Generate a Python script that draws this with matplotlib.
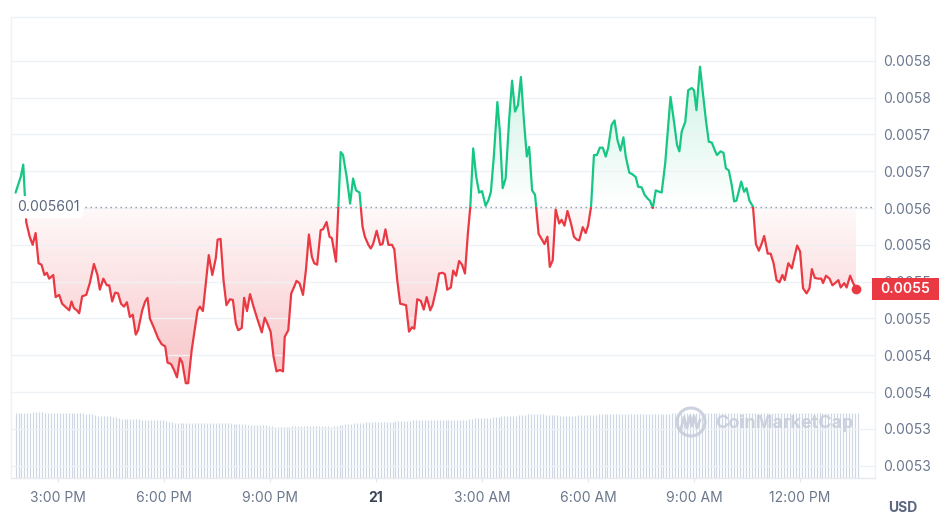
import numpy as np
import matplotlib
matplotlib.use("Agg")
import matplotlib.pyplot as plt
from matplotlib.patches import Rectangle, PathPatch, Ellipse
from matplotlib.path import Path
from matplotlib.lines import Line2D
from matplotlib.colors import to_rgb
import matplotlib.transforms as mtransforms

plt.rcParams['font.family'] = ['Inter', 'DejaVu Sans']

# ---------------- data ----------------
start_hour = 13.8          # first sample: 13:48 on the 20th (hours since midnight of the 20th)
minutes = [0, 9, 13, 18, 24, 29, 34, 39, 44, 49, 53, 57, 64, 68, 74, 79, 87, 91, 95, 99,
           104, 108, 113, 120, 126, 133, 139, 143, 149, 155, 159, 164, 169, 174, 179, 184, 189, 194, 199, 204,
           208, 215, 220, 224, 228, 235, 242, 248, 254, 258, 264, 269, 274, 279, 283, 289, 293, 299, 309, 313,
           318, 328, 334, 340, 343, 348, 353, 358, 364, 369, 374, 378, 384, 388, 393, 398, 404, 409, 418, 423,
           427, 433, 438, 443, 449, 454, 457, 463, 468, 473, 477, 482, 488, 493, 498, 503, 507, 512, 518, 522,
           528, 533, 537, 544, 552, 556, 562, 568, 573, 578, 584, 589, 593, 599, 603, 607, 613, 619, 623, 628,
           633, 639, 643, 648, 653, 658, 663, 668, 673, 677, 682, 688, 693, 698, 704, 708, 714, 719, 725, 729,
           733, 739, 743, 748, 753, 758, 763, 768, 772, 777, 782, 787, 792, 798, 803, 807, 812, 818, 822, 827,
           832, 838, 843, 848, 853, 858, 863, 868, 872, 877, 882, 888, 893, 898, 903, 907, 912, 917, 923, 927,
           932, 937, 943, 948, 953, 957, 963, 968, 972, 977, 982, 987, 992, 997, 1002, 1006, 1012, 1017, 1022, 1027,
           1032, 1036, 1042, 1047, 1053, 1057, 1063, 1068, 1073, 1077, 1082, 1087, 1093, 1097, 1103, 1112, 1118, 1123, 1127, 1131,
           1137, 1142, 1148, 1152, 1156, 1162, 1168, 1172, 1177, 1182, 1188, 1191, 1197, 1202, 1206, 1211, 1216, 1220, 1224, 1232,
           1237, 1241, 1246, 1252, 1257, 1262, 1267, 1271, 1277, 1282, 1287, 1292, 1297, 1302, 1306, 1312, 1318, 1322, 1327, 1332,
           1337, 1343, 1348, 1352, 1357, 1363, 1368, 1371, 1376, 1382, 1387, 1393, 1397, 1401, 1407, 1411, 1417, 1421, 1427]
price = [0.005621, 0.005643, 0.005659, 0.005581, 0.005561, 0.005550, 0.005566, 0.005525, 0.005523, 0.005509,
         0.005512, 0.005504, 0.005509, 0.005479, 0.005482, 0.005470, 0.005464, 0.005461, 0.005473, 0.005464,
         0.005461, 0.005457, 0.005480, 0.005482, 0.005498, 0.005524, 0.005509, 0.005489, 0.005504, 0.005495,
         0.005495, 0.005473, 0.005485, 0.005484, 0.005470, 0.005466, 0.005472, 0.005452, 0.005455, 0.005428,
         0.005434, 0.005461, 0.005473, 0.005478, 0.005450, 0.005437, 0.005423, 0.005415, 0.005412, 0.005390,
         0.005388, 0.005380, 0.005370, 0.005396, 0.005390, 0.005362, 0.005362, 0.005407, 0.005461, 0.005466,
         0.005460, 0.005536, 0.005509, 0.005532, 0.005557, 0.005558, 0.005502, 0.005468, 0.005476, 0.005475,
         0.005443, 0.005434, 0.005437, 0.005478, 0.005460, 0.005483, 0.005466, 0.005453, 0.005431, 0.005451,
         0.005444, 0.005432, 0.005398, 0.005378, 0.005380, 0.005378, 0.005425, 0.005434, 0.005484, 0.005493,
         0.005501, 0.005498, 0.005482, 0.005516, 0.005564, 0.005534, 0.005525, 0.005523, 0.005570, 0.005571,
         0.005581, 0.005561, 0.005559, 0.005527, 0.005676, 0.005672, 0.005643, 0.005606, 0.005640, 0.005624,
         0.005621, 0.005575, 0.005561, 0.005550, 0.005545, 0.005551, 0.005569, 0.005550, 0.005551, 0.005571,
         0.005550, 0.005550, 0.005544, 0.005502, 0.005470, 0.005469, 0.005468, 0.005432, 0.005438, 0.005436,
         0.005476, 0.005474, 0.005462, 0.005479, 0.005461, 0.005468, 0.005489, 0.005511, 0.005512, 0.005510,
         0.005489, 0.005492, 0.005515, 0.005508, 0.005528, 0.005523, 0.005511, 0.005566, 0.005601, 0.005681,
         0.005643, 0.005621, 0.005623, 0.005603, 0.005611, 0.005622, 0.005670, 0.005744, 0.005706, 0.005627,
         0.005640, 0.005720, 0.005773, 0.005731, 0.005740, 0.005778, 0.005720, 0.005670, 0.005683, 0.005624,
         0.005618, 0.005565, 0.005558, 0.005551, 0.005561, 0.005520, 0.005529, 0.005598, 0.005579, 0.005584,
         0.005576, 0.005596, 0.005579, 0.005561, 0.005557, 0.005556, 0.005574, 0.005566, 0.005576, 0.005601,
         0.005672, 0.005672, 0.005682, 0.005682, 0.005670, 0.005681, 0.005713, 0.005719, 0.005692, 0.005678,
         0.005696, 0.005670, 0.005648, 0.005646, 0.005642, 0.005629, 0.005628, 0.005618, 0.005613, 0.005610,
         0.005600, 0.005624, 0.005622, 0.005621, 0.005661, 0.005751, 0.005717, 0.005686, 0.005677, 0.005704,
         0.005717, 0.005760, 0.005763, 0.005760, 0.005733, 0.005792, 0.005749, 0.005720, 0.005690, 0.005689,
         0.005677, 0.005672, 0.005677, 0.005675, 0.005654, 0.005651, 0.005631, 0.005609, 0.005610, 0.005636,
         0.005622, 0.005627, 0.005610, 0.005602, 0.005551, 0.005542, 0.005552, 0.005562, 0.005538, 0.005538,
         0.005525, 0.005502, 0.005499, 0.005509, 0.005502, 0.005525, 0.005518, 0.005532, 0.005549, 0.005541,
         0.005491, 0.005484, 0.005491, 0.005517, 0.005505, 0.005504, 0.005504, 0.005498, 0.005508, 0.005504,
         0.005495, 0.005499, 0.005502, 0.005492, 0.005498, 0.005492, 0.005508, 0.005500, 0.005490]
baseline = 0.005601
baseline_label = '0.005601'
current_label = '0.0055'

# volume bars, one every 5 minutes from 13:48 (relative units)
volume_step_min = 5
volume = [66, 66, 66, 66, 66, 66, 67, 67, 67, 67, 66, 66, 66, 66, 66, 66, 66, 66, 66, 66, 66, 66, 66, 66,
          65, 65, 65, 64, 63, 63, 63, 63, 63, 62, 62, 61, 60, 60, 60, 60, 60, 60, 60, 59, 59, 59, 59, 59,
          59, 59, 59, 58, 57, 57, 56, 56, 56, 56, 56, 56, 56, 56, 56, 56, 56, 56, 56, 56, 56, 56, 56, 56,
          56, 56, 55, 55, 55, 55, 55, 54, 54, 54, 54, 54, 54, 54, 53, 53, 52, 52, 52, 52, 52, 52, 53, 53,
          53, 53, 53, 53, 53, 53, 53, 53, 53, 53, 53, 52, 53, 53, 54, 54, 55, 55, 55, 56, 56, 56, 56, 57,
          57, 57, 57, 57, 57, 57, 57, 57, 57, 58, 58, 58, 58, 58, 58, 59, 59, 59, 59, 59, 59, 59, 59, 59,
          59, 59, 59, 59, 59, 59, 59, 59, 59, 59, 60, 60, 61, 61, 61, 61, 61, 61, 62, 62, 62, 63, 63, 63,
          63, 63, 63, 64, 64, 64, 65, 65, 65, 65, 65, 65, 64, 64, 64, 64, 64, 63, 63, 63, 63, 63, 63, 64,
          64, 64, 64, 64, 64, 64, 65, 65, 65, 65, 65, 65, 65, 65, 65, 65, 65, 65, 65, 65, 65, 65, 65, 65,
          65, 65, 65, 65, 65, 65, 65, 66, 66, 66, 66, 66, 66, 66, 66, 66, 66, 66, 66, 66, 66, 66, 66, 66,
          66, 66, 66, 66, 66, 66, 66, 66, 66, 66, 66, 66, 66, 66, 66, 66, 66, 66, 66, 66, 66, 66, 66, 66,
          66, 66, 66, 66, 66, 66, 66, 66, 66, 66, 66, 66, 66, 66, 66, 66, 66, 66, 66, 66, 66, 66, 66]

ytick_values = [0.00525, 0.00530, 0.00535, 0.00540, 0.00545, 0.00550,
                0.00555, 0.00560, 0.00565, 0.00570, 0.00575, 0.00580]
ytick_labels = ['0.0053', '0.0053', '0.0054', '0.0054', '0.0055', '0.0055',
                '0.0056', '0.0056', '0.0057', '0.0057', '0.0058', '0.0058']
xtick_hours = [15, 18, 21, 24, 27, 30, 33, 36]
xtick_labels = ['3:00 PM', '6:00 PM', '9:00 PM', '21', '3:00 AM', '6:00 AM', '9:00 AM', '12:00 PM']

# ---------------- style ----------------
GREEN = '#16c784'
RED = '#ea3943'
TXT = '#6b778c'
GRID = '#eff2f5'
BAR = '#cfd6e4'
W, H = 948, 522

fig = plt.figure(figsize=(W / 100, H / 100), dpi=100)
fig.patch.set_facecolor('white')
ax_l, ax_r, ax_t, ax_b = 11, 875, 17, 478
ax = fig.add_axes([ax_l / W, 1 - ax_b / H, (ax_r - ax_l) / W, (ax_b - ax_t) / H])
axv = ax.twinx()
ax.set_zorder(2)
axv.set_zorder(1)
ax.patch.set_visible(False)

t = start_hour + np.array(minutes) / 60.0
p = np.array(price)
xlim = (13.67, 38.12)
ylim = (0.0052332, 0.0058595)

# volume bars
tv = start_hour + np.arange(len(volume)) * volume_step_min / 60.0
axv.vlines(tv, 0, volume, color=BAR, lw=0.85)
axv.set_ylim(0, max(volume) / 0.143)
axv.set_yticks([])
for s in axv.spines.values():
    s.set_visible(False)

# gradient fills
def grad_fill(coll, color, ylo, yhi, a_top, a_bot):
    paths = coll.get_paths()
    if not paths:
        return
    cp = Path.make_compound_path(*paths)
    patch = PathPatch(cp, transform=ax.transData, facecolor='none', edgecolor='none')
    ax.add_patch(patch)
    n = 256
    rgba = np.zeros((n, 1, 4))
    rgba[..., :3] = to_rgb(color)
    rgba[:, 0, 3] = np.linspace(a_top, a_bot, n)
    im = ax.imshow(rgba, extent=[xlim[0], xlim[1], ylo, yhi], origin='upper',
                   aspect='auto', zorder=1, interpolation='bilinear')
    im.set_clip_path(patch)

below = ax.fill_between(t, p, baseline, where=p <= baseline, interpolate=True,
                        facecolor='none', edgecolor='none')
above = ax.fill_between(t, p, baseline, where=p >= baseline, interpolate=True,
                        facecolor='none', edgecolor='none')
grad_fill(below, RED, p.min(), baseline, 0.03, 0.30)
grad_fill(above, GREEN, baseline, p.max(), 0.22, 0.0)

# price line, green above baseline and red below
clip_up = Rectangle((xlim[0] - 1, baseline), 30, 1, transform=ax.transData)
clip_dn = Rectangle((xlim[0] - 1, baseline - 1), 30, 1, transform=ax.transData)
ln_g, = ax.plot(t, p, color=GREEN, lw=1.6, zorder=4, solid_joinstyle='round', solid_capstyle='round')
ln_g.set_clip_path(clip_up)
ln_r, = ax.plot(t, p, color=RED, lw=1.6, zorder=4, solid_joinstyle='round', solid_capstyle='round')
ln_r.set_clip_path(clip_dn)

# end dot
ax.plot([t[-1]], [p[-1]], 'o', color=RED, ms=7, mec='none', zorder=6, clip_on=False)

# baseline dotted line and label
ax.axhline(baseline, xmin=(85 - ax_l) / (ax_r - ax_l), xmax=1.0, color='#8f98a8',
           lw=1.0, ls=(0, (1, 2.6)), zorder=3)
trans = mtransforms.blended_transform_factory(ax.transAxes, ax.transData)
ax.text((17 - ax_l) / (ax_r - ax_l), baseline, baseline_label, transform=trans,
        ha='left', va='center', fontsize=10, color='#58667e', zorder=8,
        bbox=dict(boxstyle='round,pad=0.3,rounding_size=0.4', fc='white', ec='none'))

# axes
ax.set_xlim(*xlim)
ax.set_ylim(*ylim)
ax.yaxis.tick_right()
ax.set_yticks(ytick_values)
ax.set_yticklabels(ytick_labels)
ax.set_xticks(xtick_hours)
ax.set_xticklabels(xtick_labels)
ax.tick_params(axis='y', length=0, pad=6, labelsize=10, labelcolor=TXT)
ax.tick_params(axis='x', length=3, width=0.8, color='#e3e7ec', pad=6, labelsize=10, labelcolor=TXT)
lbl = ax.get_xticklabels()[3]
lbl.set_fontweight('bold')
lbl.set_color('#3b4354')
ax.grid(axis='y', color=GRID, lw=1.0, zorder=0)
ax.grid(axis='x', visible=False)
for name, s in ax.spines.items():
    s.set_color(GRID)
    s.set_linewidth(1.0)
ax.spines['bottom'].set_color('#e6e9ee')

# current price tag
yr = ylim[1] - ylim[0]
box_h = 22 / (ax_b - ax_t) * yr
box = Rectangle(((872 - ax_l) / (ax_r - ax_l), p[-1] - box_h / 2), 67 / (ax_r - ax_l), box_h,
                transform=trans, facecolor=RED, edgecolor='none', clip_on=False, zorder=10)
ax.add_patch(box)
ax.text((905.5 - ax_l) / (ax_r - ax_l), p[-1], current_label, transform=trans, ha='center',
        va='center', fontsize=10, color='white', fontweight='semibold', zorder=11, clip_on=False)

# USD label
fig.text(903 / W, 1 - 507.5 / H, 'USD', ha='center', va='center', fontsize=10,
         fontweight='bold', color='#58667e')

# watermark
WM = '#c7cedb'
fig.text(715 / W, 1 - 423 / H, 'CoinMarketCap', ha='left', va='center', fontsize=13,
         fontweight='bold', color=WM, alpha=0.9, zorder=5)
fig.add_artist(Ellipse((691 / W, 1 - 422 / H), 28 / W, 28 / H, transform=fig.transFigure,
                       fill=False, ec=WM, lw=2.2, alpha=0.9, zorder=5))
mx = np.array([681, 684, 687, 690, 692, 694, 697, 700]) / W
my = 1 - np.array([429, 417, 428, 416, 426, 416, 428, 420]) / H
fig.add_artist(Line2D(mx, my, transform=fig.transFigure, color=WM, lw=2.0, alpha=0.9, zorder=5,
                      solid_joinstyle='round'))

fig.savefig('out.png', dpi=100, facecolor='white')
